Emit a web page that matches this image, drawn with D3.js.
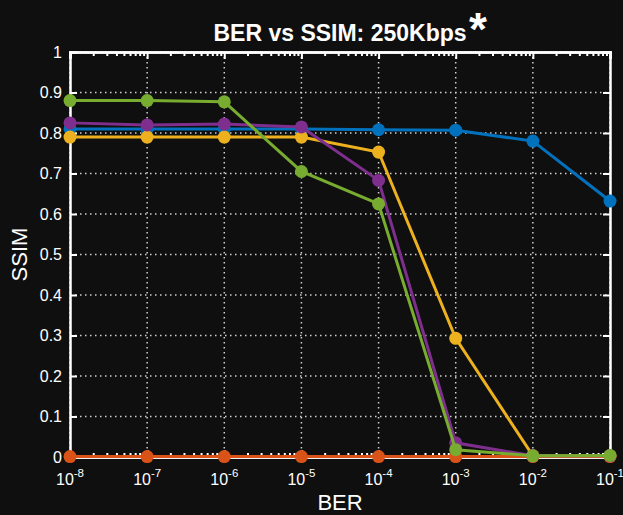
<!DOCTYPE html>
<html>
<head>
<meta charset="utf-8">
<script src="https://cdn.jsdelivr.net/npm/d3@7"></script>
<style>
  body { margin: 0; background: #0f0f0f; }
  text { font-family: "Liberation Sans", Arial, sans-serif; fill: #ffffff; }
</style>
</head>
<body>
<div id="chart"></div>
<script>
// BER values (x axis, log scale)
var ber = [1e-8, 1e-7, 1e-6, 1e-5, 1e-4, 1e-3, 1e-2, 1e-1];

// SSIM per series
var blueSsim   = [0.810, 0.810, 0.810, 0.810, 0.808, 0.807, 0.780, 0.632];
var orangeSsim = [0.001, 0.001, 0.001, 0.001, 0.001, 0.001, 0.001, 0.001];
var yellowSsim = [0.790, 0.790, 0.790, 0.790, 0.753, 0.293, 0.003, 0.003];
var purpleSsim = [0.825, 0.820, 0.822, 0.815, 0.683, 0.035, 0.003, 0.003];
var greenSsim  = [0.880, 0.880, 0.877, 0.705, 0.625, 0.018, 0.003, 0.004];

var seriesList = [blueSsim, orangeSsim, yellowSsim, purpleSsim, greenSsim];
var colors = ["#0072bd", "#d95319", "#edb120", "#7e2f8e", "#77ac30"];

var yTicks = [0, 0.1, 0.2, 0.3, 0.4, 0.5, 0.6, 0.7, 0.8, 0.9, 1];
var xExponents = [-8, -7, -6, -5, -4, -3, -2, -1];

var width = 623,
    height = 515;
var margin = {top: 52, right: 13, bottom: 58, left: 70};
var w = width - margin.left - margin.right,
    h = height - margin.top - margin.bottom;

var svg = d3.select("#chart")
            .append("svg")
              .attr("width", width)
              .attr("height", height);

svg.append("rect")
    .attr("width", width)
    .attr("height", height)
    .attr("fill", "#0f0f0f");

var g = svg.append("g")
           .attr("transform", "translate(" + margin.left + "," + margin.top + ")");

var x = d3.scaleLog()
          .domain([1e-8, 1e-1])
          .range([0, w]);

var y = d3.scaleLinear()
          .domain([0, 1])
          .range([h, 0]);

// Dotted grid
g.append("g")
  .selectAll("line")
  .data(xExponents)
  .enter()
  .append("line")
    .attr("x1", function(d) { return x(Math.pow(10, d)); })
    .attr("x2", function(d) { return x(Math.pow(10, d)); })
    .attr("y1", 0)
    .attr("y2", h)
    .attr("stroke", "#d0d0d0")
    .attr("stroke-width", 1.5)
    .attr("stroke-dasharray", "1.5,3.5");

g.append("g")
  .selectAll("line")
  .data(yTicks)
  .enter()
  .append("line")
    .attr("x1", 0)
    .attr("x2", w)
    .attr("y1", function(d) { return y(d); })
    .attr("y2", function(d) { return y(d); })
    .attr("stroke", "#d0d0d0")
    .attr("stroke-width", 1.5)
    .attr("stroke-dasharray", "1.5,3.5");

// Minor ticks for the log axis
var minorTicks = [];
xExponents.slice(0, -1).forEach(function(e) {
  for (var k = 2; k <= 9; k++) minorTicks.push(k * Math.pow(10, e));
});

var bottomAxis = d3.axisBottom(x)
                   .tickValues(xExponents.map(function(e) { return Math.pow(10, e); }))
                   .tickSize(-7)
                   .tickFormat("");
var bottomMinor = d3.axisBottom(x).tickValues(minorTicks).tickSize(-4).tickFormat("");
var topAxis = d3.axisTop(x)
                .tickValues(xExponents.map(function(e) { return Math.pow(10, e); }))
                .tickSize(-7)
                .tickFormat("");
var topMinor = d3.axisTop(x).tickValues(minorTicks).tickSize(-4).tickFormat("");
var leftAxis = d3.axisLeft(y).tickValues(yTicks).tickSize(-7).tickFormat("");
var rightAxis = d3.axisRight(y).tickValues(yTicks).tickSize(-7).tickFormat("");

function styleAxis(sel) {
  sel.select(".domain").attr("stroke", "#ffffff").attr("stroke-width", 2.5);
  sel.selectAll(".tick line").attr("stroke", "#ffffff").attr("stroke-width", 2);
}

g.append("g").attr("transform", "translate(0," + h + ")").call(bottomMinor).call(styleAxis);
g.append("g").attr("transform", "translate(0," + h + ")").call(bottomAxis).call(styleAxis);
g.append("g").call(topMinor).call(styleAxis);
g.append("g").call(topAxis).call(styleAxis);
g.append("g").call(leftAxis).call(styleAxis);
g.append("g").attr("transform", "translate(" + w + ",0)").call(rightAxis).call(styleAxis);

// Y tick labels
g.append("g")
  .selectAll("text")
  .data(yTicks)
  .enter()
  .append("text")
    .attr("x", -8)
    .attr("y", function(d) { return y(d); })
    .attr("dy", "0.36em")
    .attr("text-anchor", "end")
    .style("font-size", "16px")
    .text(function(d) { return d; });

// X tick labels as 10 with a superscript
var xl = g.append("g")
  .selectAll("text")
  .data(xExponents)
  .enter()
  .append("text")
    .attr("x", function(d) { return x(Math.pow(10, d)); })
    .attr("y", h + 28)
    .attr("text-anchor", "middle")
    .style("font-size", "16px");
xl.append("tspan").text("10");
xl.append("tspan")
    .attr("dy", -8)
    .style("font-size", "11.5px")
    .text(function(d) { return d; });

// Series lines and markers
var line = d3.line()
             .x(function(d, i) { return x(ber[i]); })
             .y(function(d) { return y(d); });

seriesList.forEach(function(s, k) {
  g.append("path")
    .datum(s)
    .attr("d", line)
    .attr("fill", "none")
    .attr("stroke", colors[k])
    .attr("stroke-width", 3);

  g.append("g")
    .selectAll("circle")
    .data(s)
    .enter()
    .append("circle")
      .attr("cx", function(d, i) { return x(ber[i]); })
      .attr("cy", function(d) { return y(d); })
      .attr("r", 6.5)
      .attr("fill", colors[k]);
});

// Title
var title = svg.append("text")
    .attr("x", margin.left + w / 2)
    .attr("y", 41)
    .attr("text-anchor", "middle")
    .style("font-size", "23px")
    .style("font-weight", "bold");
title.append("tspan").text("BER vs SSIM: 250Kbps");

svg.append("text")
    .attr("x", 469)
    .attr("y", 45)
    .style("font-size", "46px")
    .style("font-weight", "bold")
    .text("*");

// Axis labels
svg.append("text")
    .attr("x", margin.left + w / 2)
    .attr("y", 510)
    .attr("text-anchor", "middle")
    .style("font-size", "22px")
    .text("BER");

svg.append("text")
    .attr("transform", "translate(27," + (margin.top + h / 2) + ") rotate(-90)")
    .attr("text-anchor", "middle")
    .style("font-size", "22px")
    .text("SSIM");
</script>
</body>
</html>
